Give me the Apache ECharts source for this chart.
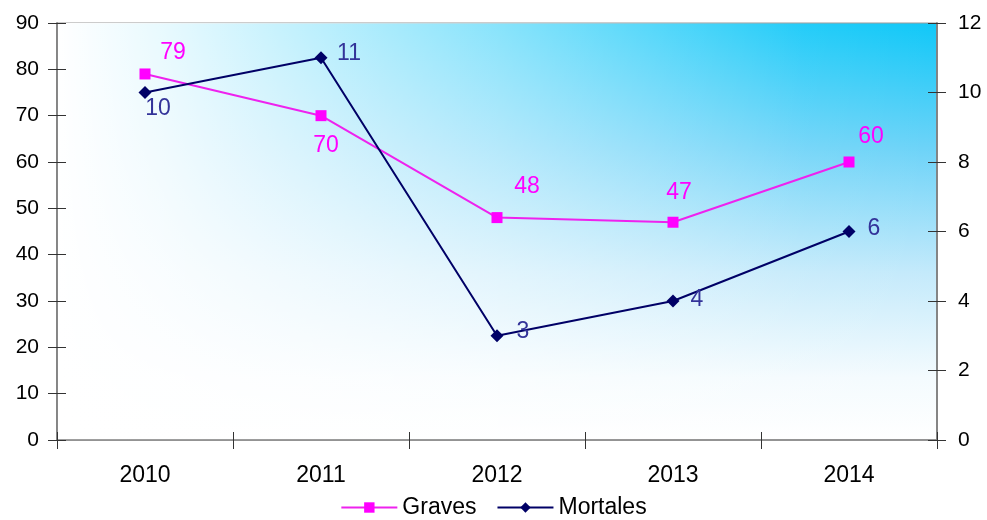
<!DOCTYPE html>
<html>
<head>
<meta charset="utf-8">
<script src="https://cdn.jsdelivr.net/npm/echarts@6/dist/echarts.min.js"></script>
<style>html,body{margin:0;padding:0;background:#fff;}#c{width:987px;height:520px;}</style>
</head>
<body>
<div id="c"></div>
<script>
const years = ['2010', '2011', '2012', '2013', '2014'];
const graves = [79, 70, 48, 47, 60];
const mortales = [10, 11, 3, 4, 6];
const leftTicks = {min: 0, max: 90, interval: 10};
const rightTicks = {min: 0, max: 12, interval: 2};
// label offsets (px) from each point centre
const gravesLabelOffsets = [[28, -21], [5, 30], [30, -31], [6, -30], [22, -25]];
const mortalesLabelOffsets = [[13, 16], [28, -4], [26, -4], [24, -1], [25, -3]];

const FONT = 'Liberation Sans, Arial, sans-serif';
const G = {left: 57, right: 50, top: 23, bottom: 80};

const chart = echarts.init(document.getElementById('c'), null, {renderer: 'canvas'});

function mkData(vals, offs, color) {
  return vals.map((v, i) => ({
    value: v,
    label: {show: true, position: 'inside', offset: offs[i], color: color,
            fontSize: 23, fontFamily: FONT, align: 'center', verticalAlign: 'middle'}
  }));
}

function yAxisCfg(t, pos, inside, showLabel) {
  return {
    type: 'value', position: pos, min: t.min, max: t.max, interval: t.interval, z: 5,
    axisLine: {show: true, lineStyle: {color: '#808080', width: 1.5}},
    axisTick: {show: true, inside: inside, length: 9, lineStyle: {color: '#333', width: 1}},
    axisLabel: {show: showLabel, color: '#000', fontSize: 21, fontFamily: FONT,
                margin: pos === 'left' ? 18 : 21, padding: [0, 0, 6, 0]},
    splitLine: {show: false}
  };
}

const option = {
  animation: false,
  backgroundColor: '#ffffff',
  grid: {
    left: G.left, right: G.right, top: G.top, bottom: G.bottom,
    show: true, borderColor: '#999', borderWidth: 1,
    backgroundColor: {
      type: 'linear', x: 0, y: 0, x2: 0, y2: 1,
      colorStops: [
        {offset: 0, color: '#10c8f8'},
        {offset: 0.3, color: '#6cd3f8'},
        {offset: 0.6, color: '#c4eafb'},
        {offset: 0.85, color: '#f4fbfe'},
        {offset: 1, color: '#ffffff'}
      ]
    }
  },
  graphic: [{
    type: 'rect', z: 1, silent: true,
    shape: {x: G.left, y: G.top, width: 987 - G.left - G.right, height: 520 - G.top - G.bottom},
    style: {
      fill: {
        type: 'linear', x: 0, y: 0, x2: 1, y2: 0,
        colorStops: [
          {offset: 0, color: 'rgba(255,255,255,1)'},
          {offset: 0.12, color: 'rgba(255,255,255,0.9)'},
          {offset: 0.5, color: 'rgba(255,255,255,0.5)'},
          {offset: 0.85, color: 'rgba(255,255,255,0.08)'},
          {offset: 1, color: 'rgba(255,255,255,0)'}
        ]
      }
    }
  }],
  legend: {
    bottom: -4, left: 'center', itemWidth: 56, itemHeight: 13, itemGap: 20,
    textStyle: {fontSize: 23, fontFamily: FONT, color: '#000'},
    data: ['Graves', 'Mortales']
  },
  xAxis: [{
    type: 'category', data: years, boundaryGap: true, position: 'bottom', z: 5,
    axisLine: {show: true, lineStyle: {color: '#808080', width: 1.5}},
    axisTick: {show: true, inside: false, length: 9, lineStyle: {color: '#333'}},
    axisLabel: {color: '#000', fontSize: 23, fontFamily: FONT, margin: 24},
    splitLine: {show: false}
  }, {
    type: 'category', data: years, boundaryGap: true, position: 'bottom', z: 5,
    axisLine: {show: false},
    axisTick: {show: true, inside: true, length: 8, lineStyle: {color: '#333'}},
    axisLabel: {show: false}, splitLine: {show: false}
  }],
  yAxis: [
    yAxisCfg(leftTicks, 'left', false, true),
    yAxisCfg(rightTicks, 'right', false, true),
    yAxisCfg(leftTicks, 'left', true, false),
    yAxisCfg(rightTicks, 'right', true, false)
  ],
  series: [
    {
      name: 'Graves', type: 'line', xAxisIndex: 0, yAxisIndex: 0, z: 6,
      data: mkData(graves, gravesLabelOffsets, '#ff00ff'),
      symbol: 'rect', symbolSize: 11,
      lineStyle: {color: '#ee22ee', width: 2},
      itemStyle: {color: '#ff00ff'}
    },
    {
      name: 'Mortales', type: 'line', xAxisIndex: 0, yAxisIndex: 1, z: 6,
      data: mkData(mortales, mortalesLabelOffsets, '#333399'),
      symbol: 'diamond', symbolSize: 13,
      lineStyle: {color: '#000066', width: 2},
      itemStyle: {color: '#000066'}
    }
  ]
};
chart.setOption(option);
</script>
</body>
</html>
